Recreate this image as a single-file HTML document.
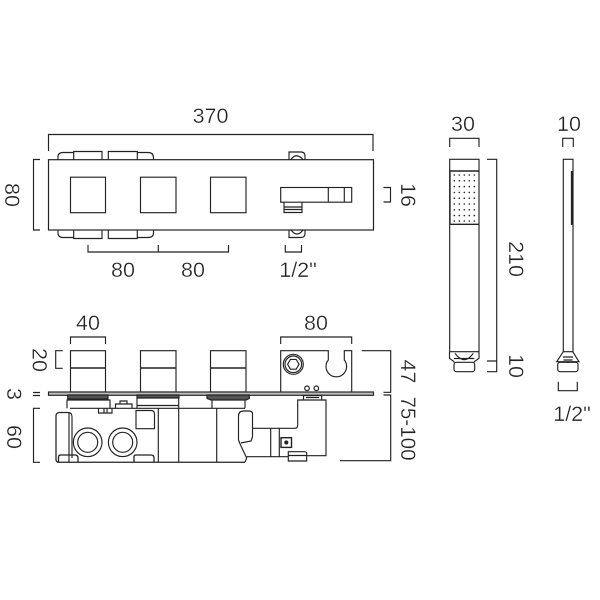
<!DOCTYPE html>
<html><head><meta charset="utf-8"><style>
html,body{margin:0;padding:0;background:#fff;width:600px;height:600px;overflow:hidden}
svg{display:block}
text{font-family:"Liberation Sans",sans-serif;font-size:21.5px;fill:#222;stroke:#fff;stroke-width:.3px}
</style></head><body>
<svg width="600" height="600" viewBox="0 0 600 600" xmlns="http://www.w3.org/2000/svg">
<rect width="600" height="600" fill="#fff"/>
<g fill="none" stroke="#222" stroke-width="1.150">
<!-- top view lugs -->
<path d="M58 159.500V157Q58 152.500 63 152.500H73.500M137.500 152.500H148Q153.500 152.500 153.500 158V159.500"/>
<path d="M73.700 159.500V151.500H102V159.500M108.300 159.500V151.500H137.300V159.500"/>
<path d="M58 230V233Q58 237.500 63 237.500H73.500M137.500 237.500H148Q153.500 237.500 153.500 233V230"/>
<path d="M73.700 230V238.500H102V230M108.300 230V238.500H137.300V230"/>
<path d="M289 159.500V152H301Q305 152 305 156V159.500M291 159.500Q296 152 303 159.500"/>
<path d="M289 230V237.500H301Q305 237.500 305 233.500V230M291 230Q297 238 303 230"/>
<!-- plate -->
<rect x="48.500" y="159.700" width="325" height="70.300" fill="#fff" stroke-width="1.200"/>
<rect x="70.500" y="177.200" width="35" height="35.500"/>
<rect x="140.500" y="177.200" width="35.500" height="35.500"/>
<rect x="210.500" y="177.200" width="35.500" height="35.500"/>
<!-- tap -->
<rect x="280.700" y="187.500" width="71" height="14.700"/>
<path d="M328.300 187.500V202M344.300 187.500V202"/>
<path d="M284 202V212.500H302V202M284 207H302M284 209.500H302"/>
<!-- dims top -->
<path d="M48.500 151V134.500H373V151"/>
<path d="M40 159.500H33.500V230H40"/>
<path d="M88 245V252H228.500V245M158.300 245V252"/>
<path d="M285.300 245V252H301.500V245"/>
<path d="M383.500 187.500H390.500V202H383.500"/>
<!-- lower view dims -->
<path d="M70.500 344V337H105.500V344"/>
<path d="M62.700 350.700H55.700V368.300H62.700"/>
<path d="M280.700 344V337H351.700V344"/>
<path d="M361.700 350.700H390.700V392.300H383.500"/>
<path d="M383.500 395H390.700V460.700H340"/>
<path d="M33 392.500H40M33 395.500H40"/>
<path d="M40 408.300H33.500V462.300H40"/>
<!-- knobs -->
<rect x="70.500" y="350.700" width="35" height="41.300"/>
<rect x="140.500" y="350.700" width="35.500" height="41.300"/>
<rect x="210.500" y="350.700" width="35.500" height="41.300"/>
<path d="M70.500 368H105.500M140.500 368H176M210.500 368H246" stroke-width="1.400"/>
<!-- plate side -->
<rect x="48.500" y="392" width="325" height="3.300" fill="#bbb"/>
<!-- bracket -->
<path d="M280.700 392V350.700H328.300V360A10.300 10.300 0 1 0 344.300 360V350.700H351.700V392"/>
<circle cx="293.300" cy="364.300" r="10"/><circle cx="293.300" cy="364.300" r="8.300"/>
<path d="M299 364.300L296.200 369.200H290.400L287.600 364.300L290.400 359.400H296.200Z"/>
<circle cx="307" cy="388.300" r="2.300"/><circle cx="316.300" cy="388.300" r="2.300"/>
<!-- underside fittings -->
<path d="M67.700 395H108V399H67.700Z" fill="#555"/>
<path d="M67 399.500V408.300M110 399.500V408.300M67 400H110"/>
<path d="M137 395H179V398H137Z" fill="#555"/>
<path d="M137 398V405.500H178.700V398M137 405.500V408.300M178.700 405.500V408.300"/>
<path d="M207 395H249.300V398.500L246 400H211L207 398.500Z" fill="#555"/>
<path d="M212 400V408.300M245 400V408.300"/>
<path d="M98.500 408.300V413H112V408.300M104 408.300V413M107 408.300V413"/>
<path d="M115.500 408V404H132V408M120 404V401H127V404"/>
<!-- body -->
<path d="M70 408.300H245"/>
<path d="M59 412.500H68Q72 412.500 72 417V458M69 412V462"/>
<path d="M59 412.500Q56 413 56 416V459.500Q56 462.300 59 462.300H245" stroke-width="1.250"/>
<path d="M158.300 408.300V462.300M178.700 408.300V462.300M216.700 408.300V462.300"/>
<circle cx="87.700" cy="442.300" r="14.300"/><circle cx="87.700" cy="442.300" r="10"/>
<circle cx="122.700" cy="442.300" r="14.300"/><circle cx="122.700" cy="442.300" r="10"/>
<path d="M136 410.500H151Q154.500 410.500 154.500 414V428.700H136Z"/>
<path d="M58.500 462V457Q58.500 455 61 455H75Q78 455 78 458V462" stroke-width="1.300"/>
<path d="M134 462V457Q134 455 136 455H151Q154 455 154 458V462" stroke-width="1.300"/>
<path d="M245 462L246.700 458L240.500 445L238.500 440V416Q238.500 411 244 411H249Q252.500 411 252.500 414V437L251 441L241 443"/>
<path d="M252.500 428.300H295Q297.700 428.300 297.700 425V400H326V455.700H306.700"/>
<path d="M246.700 456.700H288.300"/>
<path d="M270.700 428.300V456.700M279.300 428.300V456.700"/>
<rect x="281" y="437.700" width="10.500" height="9.700" stroke-width="1.400"/>
<circle cx="286.300" cy="442.500" r="1.500" fill="#222"/>
<path d="M288.300 451.700H303Q306.700 451.700 306.700 453V461H288.300Z" fill="#fff"/>
<path d="M288.300 455.500H306.700"/>
<path d="M303.500 400V395.500H321.700V400M306 397.500H319"/>
<!-- handset -->
<path d="M449.700 147V138.300H479V147"/>
<rect x="449.700" y="159.300" width="29.300" height="192.400"/>
<path d="M449.700 171H479M449.700 224.300H479" stroke-width="1.400"/>
<path d="M450 171V224" stroke-width="1.300"/>
<path d="M487 159.300H496.700V371.700H487M487 361H496.700"/>
<path d="M449.500 351.700V358.300L454 361.700V362.500M479 351.700V358.300L474.300 361.700V362.500M454 358.500H474.300"/>
<path d="M455 353.300Q464.300 366 473.300 353.300"/>
<rect x="454" y="362.300" width="20.700" height="9.400" rx="2.500"/>
<!-- side -->
<path d="M562.700 147V138.300H573.300V147"/>
<rect x="563.300" y="159.300" width="9.700" height="192.400"/>
<path d="M571.700 171V225" stroke-width="1.700"/>
<path d="M563.300 351.700L556.700 361.700H579L572.700 351.700M563 357H573M563.500 360H572.500"/>
<rect x="557.700" y="362.300" width="20.300" height="9.400" rx="2.500"/>
<path d="M558.300 381.700V390.700H577.300V381.700"/>
</g>
<g fill="#222">
<circle cx="454.300" cy="175" r=".8"/><circle cx="459.300" cy="175" r=".8"/><circle cx="464.300" cy="175" r=".8"/><circle cx="469.300" cy="175" r=".8"/><circle cx="474.300" cy="175" r=".8"/>
<circle cx="454.300" cy="180.800" r=".8"/><circle cx="459.300" cy="180.800" r=".8"/><circle cx="464.300" cy="180.800" r=".8"/><circle cx="469.300" cy="180.800" r=".8"/><circle cx="474.300" cy="180.800" r=".8"/>
<circle cx="454.300" cy="186.600" r=".8"/><circle cx="459.300" cy="186.600" r=".8"/><circle cx="464.300" cy="186.600" r=".8"/><circle cx="469.300" cy="186.600" r=".8"/><circle cx="474.300" cy="186.600" r=".8"/>
<circle cx="454.300" cy="192.400" r=".8"/><circle cx="459.300" cy="192.400" r=".8"/><circle cx="464.300" cy="192.400" r=".8"/><circle cx="469.300" cy="192.400" r=".8"/><circle cx="474.300" cy="192.400" r=".8"/>
<circle cx="454.300" cy="198.200" r=".8"/><circle cx="459.300" cy="198.200" r=".8"/><circle cx="464.300" cy="198.200" r=".8"/><circle cx="469.300" cy="198.200" r=".8"/><circle cx="474.300" cy="198.200" r=".8"/>
<circle cx="454.300" cy="204" r=".8"/><circle cx="459.300" cy="204" r=".8"/><circle cx="464.300" cy="204" r=".8"/><circle cx="469.300" cy="204" r=".8"/><circle cx="474.300" cy="204" r=".8"/>
<circle cx="454.300" cy="209.800" r=".8"/><circle cx="459.300" cy="209.800" r=".8"/><circle cx="464.300" cy="209.800" r=".8"/><circle cx="469.300" cy="209.800" r=".8"/><circle cx="474.300" cy="209.800" r=".8"/>
<circle cx="454.300" cy="215.600" r=".8"/><circle cx="459.300" cy="215.600" r=".8"/><circle cx="464.300" cy="215.600" r=".8"/><circle cx="469.300" cy="215.600" r=".8"/><circle cx="474.300" cy="215.600" r=".8"/>
<circle cx="454.300" cy="221" r=".8"/><circle cx="459.300" cy="221" r=".8"/><circle cx="464.300" cy="221" r=".8"/><circle cx="469.300" cy="221" r=".8"/><circle cx="474.300" cy="221" r=".8"/>
</g>
<g text-anchor="middle">
<text x="210.500" y="123">370</text>
<text x="123" y="277">80</text>
<text x="193" y="277">80</text>
<text x="298" y="277">1/2"</text>
<text x="88" y="330">40</text>
<text x="316" y="330">80</text>
<text x="463" y="131">30</text>
<text x="569" y="131">10</text>
<text x="572" y="421">1/2"</text>
<text transform="translate(5,195) rotate(90)">80</text>
<text transform="translate(401,195) rotate(90)">16</text>
<text transform="translate(32.500,360) rotate(90)">20</text>
<text transform="translate(7,394) rotate(90)">3</text>
<text transform="translate(7,437) rotate(90)">60</text>
<text transform="translate(401,371.500) rotate(90)">47</text>
<text transform="translate(401,428.500) rotate(90)" textLength="64" lengthAdjust="spacingAndGlyphs">75-100</text>
<text transform="translate(509,259) rotate(90)">210</text>
<text transform="translate(509,366) rotate(90)">10</text>
</g>
</svg>
</body></html>
